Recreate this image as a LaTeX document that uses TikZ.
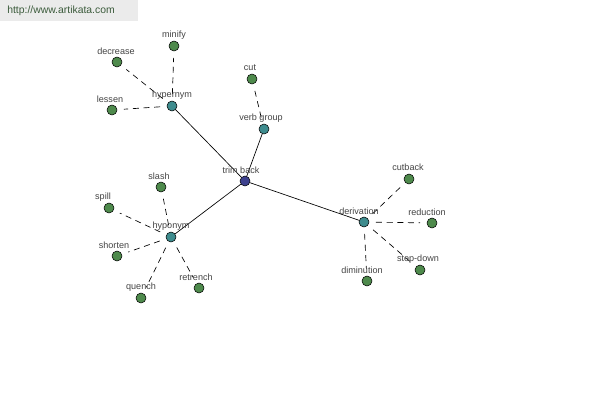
\documentclass[tikz,border=0pt]{standalone}
\usepackage{fontspec}
\setmainfont{Liberation Sans}
\begin{document}
\begin{tikzpicture}[x=0.75pt,y=-0.75pt,
  leaf/.style={circle,draw=black,line width=0.4pt,fill=leafgreen,minimum size=7.5pt,inner sep=0pt},
  mid/.style={circle,draw=black,line width=0.4pt,fill=midteal,minimum size=7.5pt,inner sep=0pt},
  root/.style={circle,draw=black,line width=0.4pt,fill=rootblue,minimum size=7.5pt,inner sep=0pt},
  lbl/.style={font=\fontsize{6.8}{8}\selectfont,text=lblgray,inner sep=0pt},
  solidedge/.style={draw=black,line width=0.5pt},
  dashedge/.style={draw=black,line width=0.5pt,dashed,dash pattern=on 4.5pt off 3.5pt,shorten <=5pt,shorten >=5pt}]
\definecolor{leafgreen}{HTML}{4E8A4C}
\definecolor{midteal}{HTML}{3E8C8E}
\definecolor{rootblue}{HTML}{3D418E}
\definecolor{lblgray}{HTML}{444444}
\definecolor{hdrgray}{HTML}{EBEBEB}
\definecolor{hdrtext}{HTML}{3B5B3B}
\useasboundingbox[fill=white] (0,0) rectangle (600,400);
\fill[hdrgray] (0,0) rectangle (138,21);
\node[anchor=west,font=\fontsize{7.8}{9}\selectfont,text=hdrtext,inner sep=0pt] (hdr) at (7,11) {http://www.artikata.com};
% nodes
\node[root] (trim) at (245,181) {};
\node[mid] (hyper) at (172,106) {};
\node[mid] (verb) at (264,129) {};
\node[mid] (hypo) at (171,237) {};
\node[mid] (deriv) at (364,222) {};
\node[leaf] (minify) at (174,46) {};
\node[leaf] (decrease) at (117,62) {};
\node[leaf] (lessen) at (112,110) {};
\node[leaf] (cut) at (252,79) {};
\node[leaf] (slash) at (161,187) {};
\node[leaf] (spill) at (109,208) {};
\node[leaf] (shorten) at (117,256) {};
\node[leaf] (quench) at (141,298) {};
\node[leaf] (retrench) at (199,288) {};
\node[leaf] (cutback) at (409,179) {};
\node[leaf] (reduction) at (432,223) {};
\node[leaf] (stepdown) at (420,270) {};
\node[leaf] (diminution) at (367,281) {};
% edges
\draw[solidedge] (trim) -- (hyper);
\draw[solidedge] (trim) -- (verb);
\draw[solidedge] (trim) -- (hypo);
\draw[solidedge] (trim) -- (deriv);
\draw[dashedge] (hyper) -- (minify);
\draw[dashedge] (hyper) -- (decrease);
\draw[dashedge] (hyper) -- (lessen);
\draw[dashedge] (verb) -- (cut);
\draw[dashedge] (hypo) -- (slash);
\draw[dashedge] (hypo) -- (spill);
\draw[dashedge] (hypo) -- (shorten);
\draw[dashedge] (hypo) -- (quench);
\draw[dashedge] (hypo) -- (retrench);
\draw[dashedge] (deriv) -- (cutback);
\draw[dashedge] (deriv) -- (reduction);
\draw[dashedge] (deriv) -- (stepdown);
\draw[dashedge] (deriv) -- (diminution);
% labels
\node[lbl] (ltrim) at (241,170) {trim back};
\node[lbl] (lhyper) at (172,95) {hypernym};
\node[lbl] (lverb) at (261,118) {verb group};
\node[lbl] (lhypo) at (171,226) {hyponym};
\node[lbl] (lderiv) at (359,211) {derivation};
\node[lbl] (lminify) at (174,35) {minify};
\node[lbl] (ldecrease) at (116,51) {decrease};
\node[lbl] (llessen) at (110,99) {lessen};
\node[lbl] (lcut) at (250,68) {cut};
\node[lbl] (lslash) at (159,176) {slash};
\node[lbl] (lspill) at (103,197) {spill};
\node[lbl] (lshorten) at (114,245) {shorten};
\node[lbl] (lquench) at (141,287) {quench};
\node[lbl] (lretrench) at (196,277) {retrench};
\node[lbl] (lcutback) at (408,167) {cutback};
\node[lbl] (lreduction) at (427,212) {reduction};
\node[lbl] (lstepdown) at (418,259) {step-down};
\node[lbl] (ldiminution) at (362,270) {diminution};
\end{tikzpicture}
\end{document}
